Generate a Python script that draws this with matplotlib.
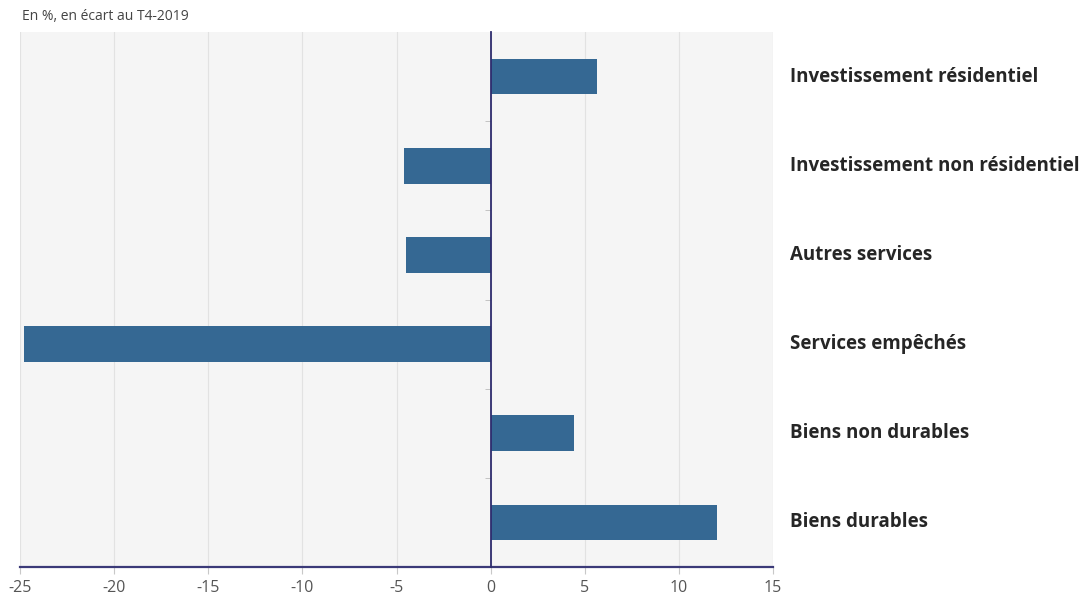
import numpy as np
import matplotlib
matplotlib.use("Agg")
import matplotlib.pyplot as plt

# data (bottom to top)
categories = ["Biens durables", "Biens non durables", "Services empêchés",
              "Autres services", "Investissement non résidentiel",
              "Investissement résidentiel"]
values = [12.05, 4.45, -24.8, -4.5, -4.6, 5.65]
x_ticks = [-25, -20, -15, -10, -5, 0, 5, 10, 15]
subtitle = "En %, en écart au T4-2019"

plt.rcParams['font.family'] = ['Open Sans', 'DejaVu Sans']

fig = plt.figure(figsize=(10.82, 5.99), dpi=100)
ax = fig.add_axes([20 / 1082, 1 - 567 / 599, 753 / 1082, 535 / 599])
ax.set_facecolor('#f5f5f5')

y = np.arange(len(categories))
ax.barh(y, values, height=0.4, color='#356893', zorder=3)

ax.set_xlim(-25, 15)
ax.set_ylim(-0.5, len(categories) - 0.5)
ax.set_xticks(x_ticks)
ax.set_xticklabels([str(t) for t in x_ticks])
ax.grid(axis='x', color='#e2e2e2', linewidth=0.8, zorder=0)

# spines: zero line as the left spine, bottom axis in navy
for side in ['top', 'right']:
    ax.spines[side].set_visible(False)
ax.spines['left'].set_position(('data', 0))
ax.spines['left'].set_color('#2e2c6e')
ax.spines['left'].set_linewidth(1.3)
ax.spines['left'].set_zorder(4)
ax.spines['bottom'].set_color('#3b3a78')
ax.spines['bottom'].set_linewidth(1.6)

# category labels on the right, small separator ticks on the zero line
ax.set_yticks(y)
ax.set_yticklabels(categories)
ax.set_yticks(np.arange(len(categories) - 1) + 0.5, minor=True)
ax.tick_params(axis='y', which='major', left=False, right=False,
               labelleft=False, labelright=True, pad=9, labelsize=13.5,
               labelcolor='#262626')
ax.tick_params(axis='y', which='minor', left=True, length=4, color='#bbbbbb')
for lbl in ax.get_yticklabels():
    lbl.set_fontweight('bold')
    lbl.set_va('center')

ax.tick_params(axis='x', length=5, color='#c8c8c8', labelsize=11.5,
               labelcolor='#555555', pad=4)

fig.text(22 / 1082, 1 - 16 / 599, subtitle, fontsize=10, color='#444444',
         va='center', ha='left')

fig.savefig("out.png", dpi=100, facecolor='white')
